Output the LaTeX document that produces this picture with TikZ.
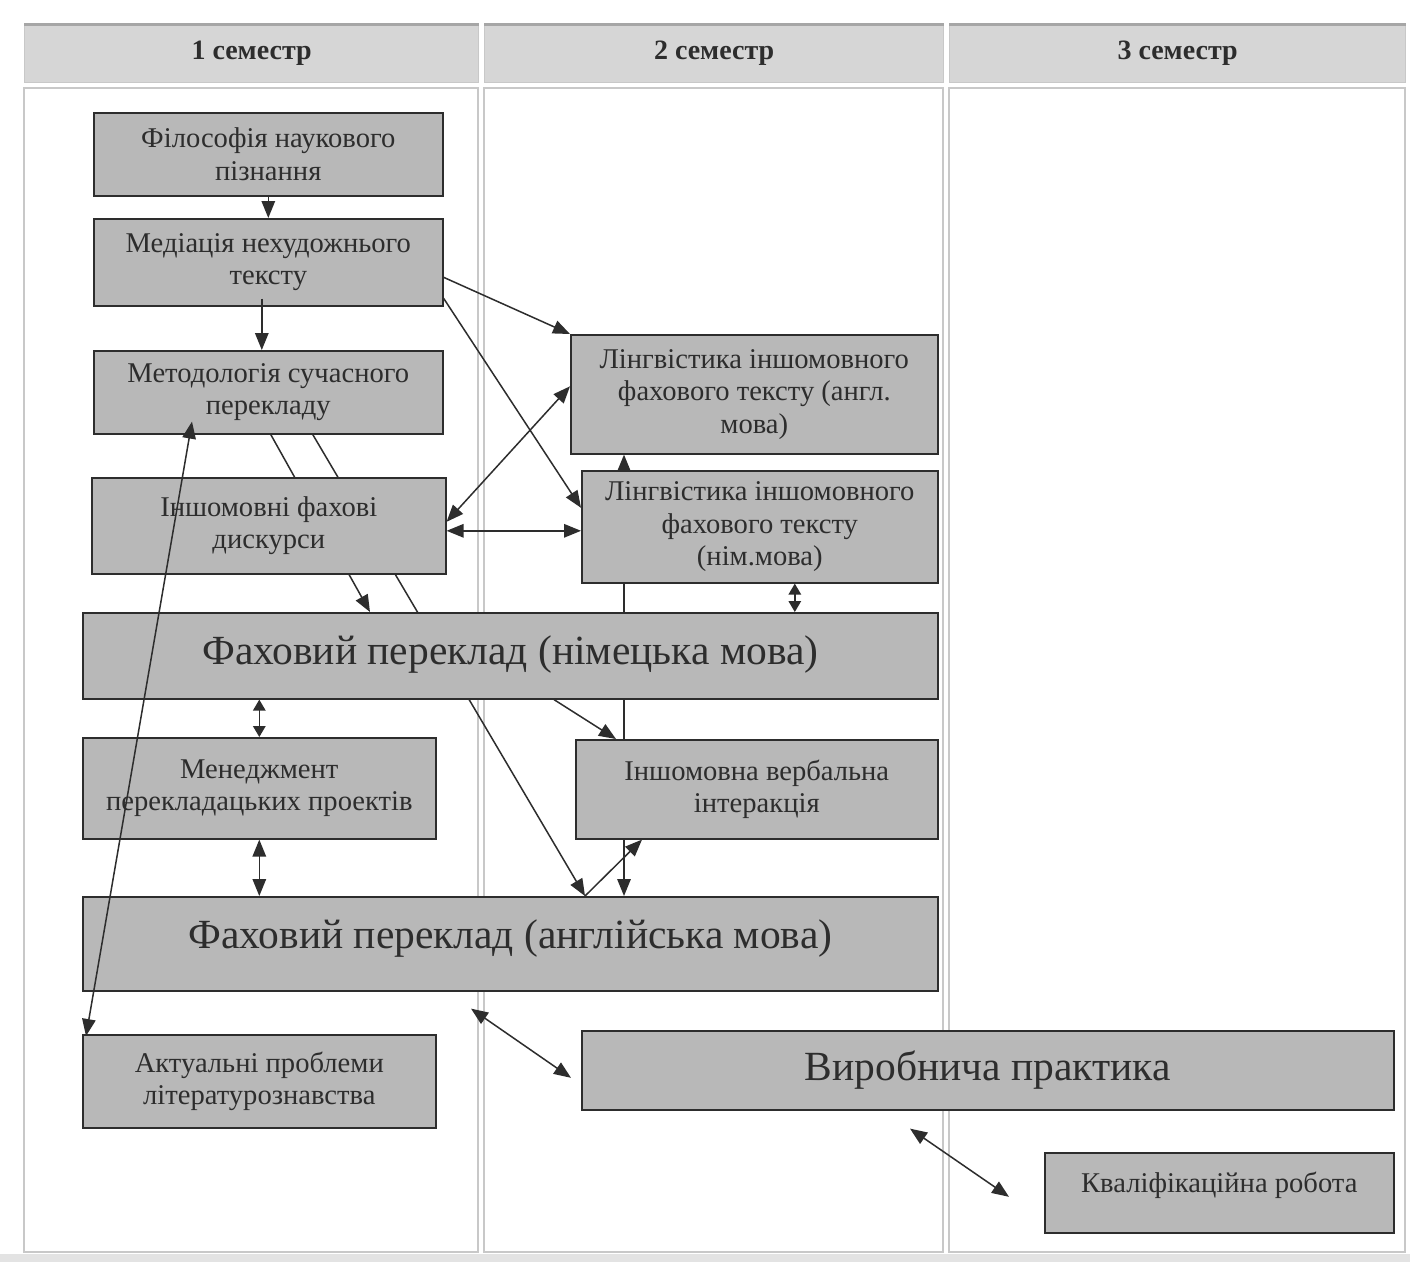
\documentclass[tikz,border=0pt]{standalone}
\usepackage{fontspec}
\setmainfont{Liberation Serif}
\usetikzlibrary{arrows.meta,calc}
\pgfdeclarelayer{tbl}
\pgfdeclarelayer{bg}
\pgfsetlayers{tbl,bg,main}
\definecolor{boxfill}{RGB}{184,184,184}
\definecolor{hdrfill}{RGB}{214,214,214}
\definecolor{cellline}{RGB}{200,200,200}
\definecolor{ink}{RGB}{45,45,45}
\begin{document}
\begin{tikzpicture}[x=1pt,y=-1pt,
  box/.style={draw=ink, fill=boxfill, line width=1.6pt, inner sep=0pt, anchor=north west,
    align=center, text=ink, font=\fontsize{28.6}{32.5}\selectfont},
  bigtext/.style={font=\fontsize{41.5}{47}\selectfont},
  hdr/.style={fill=hdrfill, draw=cellline, line width=1.2pt, inner sep=0pt, anchor=north west,
    text=ink, font=\fontsize{28}{32}\selectfont\bfseries},
  cell/.style={draw=cellline, line width=1.5pt},
  arr/.style={draw=ink, line width=1.5pt, -{Triangle[length=17pt,width=13.5pt]}},
  darr/.style={draw=ink, line width=1.5pt, {Triangle[length=17pt,width=13.5pt]}-{Triangle[length=17pt,width=13.5pt]}},
  sdarr/.style={draw=ink, line width=1.5pt, {Triangle[length=11pt,width=12.5pt]}-{Triangle[length=11pt,width=12.5pt]}}]

\useasboundingbox (0,0) rectangle (1410,1262);

\begin{pgfonlayer}{tbl}
  \fill[white] (0,0) rectangle (1410,1262);
  \node[hdr, minimum width=454pt, minimum height=58pt] (h1) at (24,24) {1 семестр};
  \node[hdr, minimum width=459pt, minimum height=58pt] (h2) at (484,24) {2 семестр};
  \node[hdr, minimum width=456pt, minimum height=58pt] (h3) at (949,24) {3 семестр};
  \draw[gray!70, line width=3pt] (h1.north west) -- (h1.north east);
  \draw[gray!70, line width=3pt] (h2.north west) -- (h2.north east);
  \draw[gray!70, line width=3pt] (h3.north west) -- (h3.north east);
  \draw[cell] (24,88) rectangle (478,1252);
  \draw[cell] (484,88) rectangle (943,1252);
  \draw[cell] (949,88) rectangle (1405,1252);
  \fill[gray!22] (0,1254) rectangle (1410,1262);
\end{pgfonlayer}

% boxes
\node[box, minimum width=349pt, minimum height=83pt] (b1) at (93,112) {Філософія наукового\\пізнання};
\node[box, minimum width=349pt, minimum height=87pt] (b2) at (93,218) {Медіація нехудожнього\\тексту};
\node[box, minimum width=349pt, minimum height=83pt] (b3) at (93,350) {Методологія сучасного\\перекладу};
\node[box, minimum width=354pt, minimum height=96pt] (b4) at (91,477) {Іншомовні фахові\\дискурси};
\node[box, minimum width=367pt, minimum height=119pt] (b5) at (570,334) {Лінгвістика іншомовного\\фахового тексту (англ.\\мова)};
\node[box, minimum width=356pt, minimum height=112pt] (b6) at (581,470) {Лінгвістика іншомовного\\фахового тексту\\(нім.мова)};
\node[box, bigtext, minimum width=855pt, minimum height=86pt] (b7) at (82,612) {\raisebox{12pt}{Фаховий переклад (німецька мова)}};
\node[box, minimum width=353pt, minimum height=101pt] (b8) at (82,737) {Менеджмент\\перекладацьких проектів};
\node[box, minimum width=362pt, minimum height=99pt] (b9) at (575,739) {Іншомовна вербальна\\інтеракція};
\node[box, bigtext, minimum width=855pt, minimum height=94pt] (b10) at (82,896) {\raisebox{20pt}{Фаховий переклад (англійська мова)}};
\node[box, minimum width=353pt, minimum height=93pt] (b11) at (82,1034) {Актуальні проблеми\\літературознавства};
\node[box, bigtext, minimum width=812pt, minimum height=79pt] (b12) at (581,1030) {\raisebox{6pt}{Виробнича практика}};
\node[box, minimum width=349pt, minimum height=80pt] (b13) at (1044,1152) {\raisebox{22pt}{Кваліфікаційна робота}};

% helper coordinates
\coordinate (h4) at ([yshift=-5pt]b4.east);
\coordinate (v5) at ([xshift=54pt]b5.south west);
\coordinate (v6) at ([xshift=35pt]b6.south);
\coordinate (m10) at ([xshift=503pt]b10.north west);
\coordinate (p1) at ([xshift=389pt,yshift=-17pt]b10.south west);
\coordinate (p2) at ([xshift=-10pt,yshift=-7.5pt]b12.west);
\coordinate (q1) at ([xshift=329pt,yshift=-18pt]b12.south west);
\coordinate (q2) at ([xshift=-35pt,yshift=-4pt]b13.west);

% connectors behind boxes
\begin{pgfonlayer}{bg}
  \draw[darr] (v5) -- (v5 |- b10.north);
  \draw[arr] ([xshift=2.5pt]b3.south) -- ([xshift=288pt]b7.north west);
  \draw[arr] ([xshift=44.5pt]b3.south) -- (m10);
\end{pgfonlayer}

% connectors on top
\draw[arr] (b1.south) -- (b2.north);
\draw[arr] ([xshift=-6.5pt,yshift=8pt]b2.south) -- ([xshift=-6.5pt]b3.north);
\draw[arr] ([yshift=-15pt]b2.east) -- (b5.north west);
\draw[arr] ([yshift=-36pt]b2.east) -- ([yshift=19pt]b6.west);
\draw[darr] ([yshift=4pt]b4.east) -- ([yshift=8pt]b5.west);
\draw[darr] (h4) -- (h4 -| b6.west);
\draw[sdarr] (v6) -- (v6 |- b7.north);
\draw[arr] ([xshift=472pt]b7.south west) -- ([xshift=41pt]b9.north west);
\draw[arr] (m10) -- ([xshift=67pt]b9.south west);
\draw[sdarr] (b8.north |- b7.south) -- (b8.north);
\draw[darr] (b8.south) -- (b8.south |- b10.north);
\draw[darr] ([xshift=4pt,yshift=-2pt]b11.north west) -- ([xshift=99pt,yshift=13pt]b3.south west);
\draw[darr] (p1) -- (p2);
\draw[darr] (q1) -- (q2);
\end{tikzpicture}
\end{document}
